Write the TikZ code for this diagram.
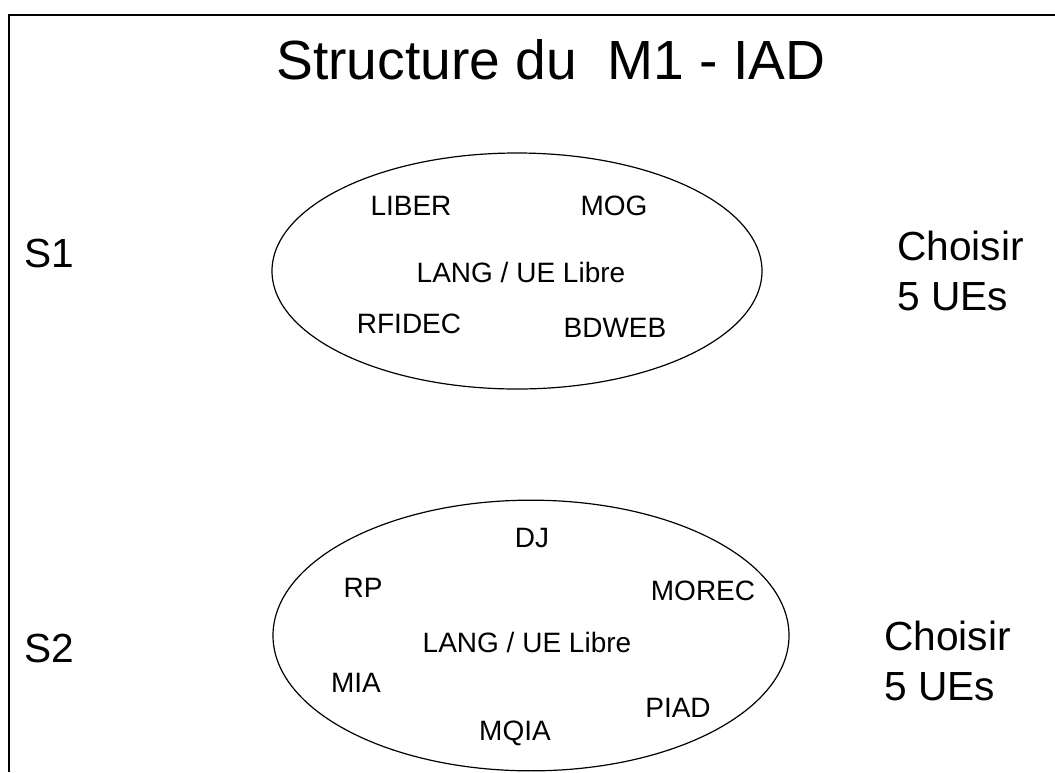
\documentclass[tikz,border=0pt]{standalone}
\usepackage{fontspec}
\setmainfont{Liberation Sans}
\usetikzlibrary{shapes.geometric}

\tikzset{
  ue/.style={anchor=base, inner sep=0pt, font=\fontsize{21}{25}\selectfont},
  sem/.style={anchor=base west, inner sep=0pt, font=\fontsize{30.5}{36}\selectfont},
  choix/.style={anchor=north west, inner sep=0pt, align=left, font=\fontsize{30.5}{37.5}\selectfont},
  ens/.style={draw, ellipse, inner sep=0pt, outer sep=0pt, line width=0.9pt}
}

\begin{document}
\begin{tikzpicture}[x=0.75pt,y=-0.75pt]
			\useasboundingbox (0,0) rectangle (1055,772);
			\draw[line width=1.6pt] (9,772) -- (9,15) -- (1055,15);
			\node[anchor=base, inner sep=0pt, font=\fontsize{41.4}{50}\selectfont] (titre) at (551,79) {Structure du~ M1 - IAD};
			% premier semestre
			\node[sem] (s1) at (24,267) {S1};
			\node[ens, minimum width=367.5pt, minimum height=177pt] (ens1) at (517,271) {};
			\node[ue] (liber) at (411,215) {LIBER};
			\node[ue] (mog) at (614,215) {MOG};
			\node[ue] (lang1) at (521,282) {LANG / UE Libre};
			\node[ue] (rfidec) at (409,333) {RFIDEC};
			\node[ue] (bdweb) at (615,337) {BDWEB};
			\node[choix] (choix1) at (897,231) {Choisir\\5 UEs};
			% second semestre
			\node[sem] (s2) at (24,662) {S2};
			\node[ens, minimum width=387pt, minimum height=203pt] (ens2) at (531,635.5) {};
			\node[ue] (dj) at (532,547) {DJ};
			\node[ue] (rp) at (363,597) {RP};
			\node[ue] (morec) at (703,600) {MOREC};
			\node[ue] (lang2) at (527,652) {LANG / UE Libre};
			\node[ue] (mia) at (356,692) {MIA};
			\node[ue] (piad) at (678,717) {PIAD};
			\node[ue] (mqia) at (515,740) {MQIA};
			\node[choix] (choix2) at (884,621) {Choisir\\5 UEs};
			\end{tikzpicture}
\end{document}
